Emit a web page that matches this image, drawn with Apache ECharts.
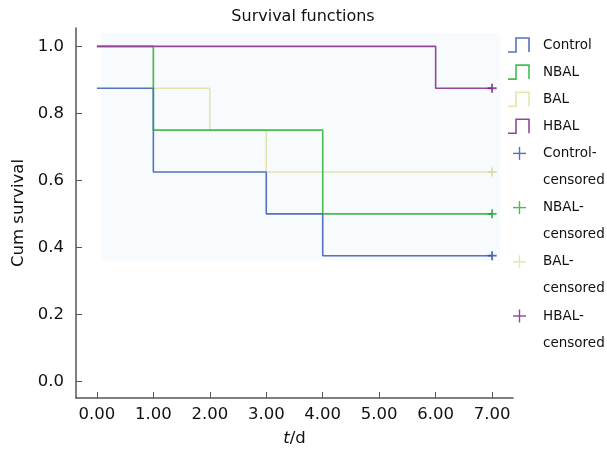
<!DOCTYPE html>
<html>
<head>
<meta charset="utf-8">
<script src="https://cdn.jsdelivr.net/npm/echarts@6/dist/echarts.min.js"></script>
<style>
  html,body{margin:0;padding:0;background:#fff}
  #chart{width:607px;height:452px}
</style>
</head>
<body>
<div id="chart"></div>
<script>
// survival data
var groups = ['Control', 'NBAL', 'BAL', 'HBAL']
var controlTimes = [0, 1, 3, 4, 7]
var controlSurv = [0.875, 0.625, 0.5, 0.375, 0.375]
var nbalTimes = [0, 1, 4, 7]
var nbalSurv = [1, 0.75, 0.5, 0.5]
var balTimes = [0, 1, 2, 3, 7]
var balSurv = [1, 0.875, 0.75, 0.625, 0.625]
var hbalTimes = [0, 6, 7]
var hbalSurv = [1, 0.875, 0.875]
// censored points (time, survival)
var censoredTimes = [7, 7, 7, 7]
var censoredSurv = [0.375, 0.5, 0.625, 0.875]
var xTicks = [0, 1, 2, 3, 4, 5, 6, 7]
var yTicks = [0, 0.2, 0.4, 0.6, 0.8, 1.0]

var lineColors = ['#5571c2', '#45bd52', '#e3e5ad', '#93469a']
var plusColors = ['#2d4aa8', '#1f9c36', '#d6d89a', '#72207a']
var legendPlusColors = ['#5571c2', '#45bd52', '#e3e5ad', '#93469a']
var FONT = '"DejaVu Sans", sans-serif'

var times = [controlTimes, nbalTimes, balTimes, hbalTimes]
var survs = [controlSurv, nbalSurv, balSurv, hbalSurv]
var zOrder = [3, 2, 1, 4]

var plusPath = 'path://M4,0 L6,0 L6,4 L10,4 L10,6 L6,6 L6,10 L4,10 L4,6 L0,6 L0,4 L4,4 Z'

var series = []
groups.forEach(function (g, i) {
  series.push({
    name: g,
    type: 'line',
    step: 'end',
    symbol: 'none',
    z: zOrder[i],
    lineStyle: { color: lineColors[i], width: 1.6 },
    data: times[i].map(function (t, k) { return [t, survs[i][k]] })
  })
})
groups.forEach(function (g, i) {
  series.push({
    name: g + '-censored',
    type: 'scatter',
    symbol: plusPath,
    symbolSize: 9,
    z: 10,
    itemStyle: { color: plusColors[i] },
    data: [[censoredTimes[i], censoredSurv[i]]]
  })
})
// faint panel behind the curves
series[0].markArea = {
  silent: true,
  itemStyle: { color: '#f8fbfd' },
  data: [[{ coord: [0.07, 1.04] }, { coord: [7.15, 0.36] }]]
}

// legend drawn by hand: step icons and plus icons
var legendEls = []
var rowY = function (r) { return 45 + r * 27.1 }
groups.forEach(function (g, i) {
  var y = rowY(i)
  legendEls.push({
    type: 'polyline',
    shape: { points: [[508, y + 7], [516, y + 7], [516, y - 7], [529, y - 7], [529, y + 7]] },
    style: { stroke: lineColors[i], lineWidth: 1.6, fill: null }
  })
  legendEls.push({
    type: 'text', x: 543, y: y,
    style: { text: g, font: '13.5px ' + FONT, fill: '#111', verticalAlign: 'middle' }
  })
})
groups.forEach(function (g, i) {
  var y = rowY(4 + i * 2)
  legendEls.push({
    type: 'polyline',
    shape: { points: [[513, y], [526, y]] },
    style: { stroke: legendPlusColors[i], lineWidth: 1.4, fill: null }
  })
  legendEls.push({
    type: 'polyline',
    shape: { points: [[519.5, y - 6.5], [519.5, y + 6.5]] },
    style: { stroke: legendPlusColors[i], lineWidth: 1.4, fill: null }
  })
  legendEls.push({
    type: 'text', x: 543, y: y,
    style: { text: g + '-', font: '13.5px ' + FONT, fill: '#111', verticalAlign: 'middle' }
  })
  legendEls.push({
    type: 'text', x: 543, y: rowY(5 + i * 2),
    style: { text: 'censored', font: '13.5px ' + FONT, fill: '#111', verticalAlign: 'middle' }
  })
})

var chart = echarts.init(document.getElementById('chart'))
chart.setOption({
  animation: false,
  backgroundColor: '#fff',
  title: {
    text: 'Survival functions',
    left: 298,
    textAlign: 'center',
    top: 4,
    textStyle: { fontFamily: FONT, fontSize: 16, fontWeight: 'normal', color: '#111' }
  },
  grid: { left: 76, right: 94, top: 28, bottom: 54 },
  xAxis: {
    type: 'value',
    min: -0.37,
    max: 7.37,
    name: '{i|t}/d',
    nameLocation: 'middle',
    nameGap: 32,
    nameTextStyle: {
      fontFamily: FONT, fontSize: 16.5, color: '#111',
      rich: { i: { fontFamily: FONT, fontSize: 16.5, fontStyle: 'italic', color: '#111' } }
    },
    axisLine: { onZero: false, lineStyle: { color: '#555', width: 1.5 } },
    axisTick: {
      show: true, inside: true, length: 6,
      customValues: xTicks,
      lineStyle: { color: '#555' }
    },
    axisLabel: {
      customValues: xTicks,
      margin: 8,
      fontFamily: FONT, fontSize: 16.5, color: '#111',
      formatter: function (v) { return v.toFixed(2) }
    },
    splitLine: { show: false }
  },
  yAxis: {
    type: 'value',
    min: -0.05,
    max: 1.055,
    name: 'Cum survival',
    nameLocation: 'middle',
    nameGap: 44,
    nameTextStyle: { fontFamily: FONT, fontSize: 16.5, color: '#111' },
    axisLine: { show: true, onZero: false, lineStyle: { color: '#555', width: 1.5 } },
    axisTick: {
      show: true, inside: true, length: 6,
      customValues: yTicks,
      lineStyle: { color: '#555' }
    },
    axisLabel: {
      customValues: yTicks,
      margin: 12,
      fontFamily: FONT, fontSize: 16.5, color: '#111',
      formatter: function (v) { return v.toFixed(1) }
    },
    splitLine: { show: false }
  },
  series: series,
  graphic: legendEls
})
</script>
</body>
</html>
